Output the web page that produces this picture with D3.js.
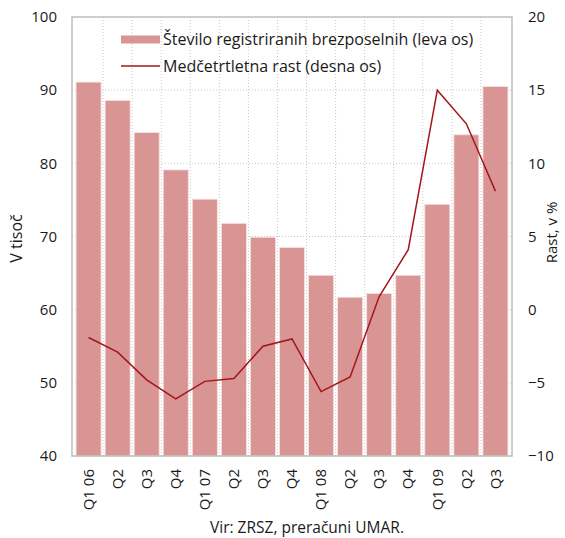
<!DOCTYPE html>
<html>
<head>
<meta charset="utf-8">
<script src="https://cdn.jsdelivr.net/npm/d3@7"></script>
<style>
    body { margin: 0; background: #fff; }
    text { font-family: "Open Sans", "DejaVu Sans", sans-serif; fill: #1a1a1a; }
</style>
</head>
<body>
<div id="chart"></div>
<script>
var quarters = ["Q1 06", "Q2", "Q3", "Q4", "Q1 07", "Q2", "Q3", "Q4", "Q1 08", "Q2", "Q3", "Q4", "Q1 09", "Q2", "Q3"];
var unemployed = [91.1, 88.6, 84.2, 79.1, 75.1, 71.8, 69.9, 68.5, 64.7, 61.7, 62.2, 64.7, 74.4, 83.9, 90.5];
var growth = [-1.9, -2.9, -4.8, -6.1, -4.9, -4.7, -2.5, -2.0, -5.6, -4.6, 0.9, 4.1, 15.0, 12.7, 8.1];
var leftTicks = [40, 50, 60, 70, 80, 90, 100];
var rightTicks = [-10, -5, 0, 5, 10, 15, 20];
var legendLabels = ["Število registriranih brezposelnih (leva os)", "Medčetrtletna rast (desna os)"];

var margin = { top: 17, right: 53, bottom: 82, left: 72 },
    width = 565 - margin.left - margin.right,
    height = 538 - margin.top - margin.bottom;

var barColor = "#d99594",
    lineColor = "#a3151b",
    gridColor = "#c8c8c8";

var svg = d3
    .select("#chart")
    .append("svg")
    .attr("width", 565)
    .attr("height", 538);

var g = svg.append("g")
    .attr("transform", "translate(" + margin.left + "," + margin.top + ")");

var idx = d3.range(quarters.length);
var x = d3.scaleBand().domain(idx).range([0, width]).paddingInner(0.14).paddingOuter(0.14);
var y = d3.scaleLinear().domain([40, 100]).range([height, 0]);
var y2 = d3.scaleLinear().domain([-10, 20]).range([height, 0]);
var gap = x.step() * x.paddingInner();
var mid = (i) => x(i) + x.bandwidth() / 2;

// dotted grid
g.selectAll(".hgrid")
    .data(leftTicks.slice(1, -1))
    .enter()
    .append("line")
    .attr("x1", 0)
    .attr("x2", width)
    .attr("y1", (d) => y(d))
    .attr("y2", (d) => y(d))
    .attr("stroke", gridColor)
    .attr("stroke-dasharray", "1,2");

g.selectAll(".vgrid")
    .data(idx.slice(1))
    .enter()
    .append("line")
    .attr("x1", (d) => x(d) - gap / 2)
    .attr("x2", (d) => x(d) - gap / 2)
    .attr("y1", 0)
    .attr("y2", height)
    .attr("stroke", gridColor)
    .attr("stroke-dasharray", "1,2");

// bars
g.selectAll(".bar")
    .data(unemployed)
    .enter()
    .append("rect")
    .attr("x", (d, i) => x(i))
    .attr("width", x.bandwidth())
    .attr("y", (d) => y(d))
    .attr("height", (d) => height - y(d))
    .attr("fill", barColor)
    .attr("stroke", "#f4e2e1")
    .attr("stroke-width", 0.8);

// frame
g.append("rect")
    .attr("width", width)
    .attr("height", height)
    .attr("fill", "none")
    .attr("stroke", "#bdbdbd")
    .attr("stroke-width", 1.5);

// line
g.append("path")
    .datum(growth)
    .attr("fill", "none")
    .attr("stroke", lineColor)
    .attr("stroke-width", 1.5)
    .attr("d", d3.line()
        .x((d, i) => mid(i))
        .y((d) => y2(d)));

// axes
var leftAxis = g.append("g")
    .call(d3.axisLeft(y).tickValues(leftTicks).tickSize(0).tickPadding(15));
leftAxis.select(".domain").remove();
leftAxis.selectAll("text").style("font-size", "15px");

var rightAxis = g.append("g")
    .attr("transform", "translate(" + width + ",0)")
    .call(d3.axisRight(y2).tickValues(rightTicks).tickSize(0).tickPadding(16));
rightAxis.select(".domain").remove();
rightAxis.selectAll("text").style("font-size", "15px");

var bottomAxis = g.append("g")
    .attr("transform", "translate(0," + height + ")")
    .call(d3.axisBottom(x).tickFormat((i) => quarters[i]).tickSize(0));
bottomAxis.select(".domain").remove();
bottomAxis.selectAll("text")
    .style("font-size", "15px")
    .attr("transform", "rotate(-90)")
    .attr("text-anchor", "end")
    .attr("x", -13)
    .attr("y", 0)
    .attr("dy", "0.35em");

// axis titles
svg.append("text")
    .attr("transform", "translate(22," + (margin.top + height / 2 + 2) + ") rotate(-90)")
    .attr("text-anchor", "middle")
    .style("font-size", "16px")
    .text("V tisoč");

svg.append("text")
    .attr("transform", "translate(557," + (margin.top + height / 2 - 4) + ") rotate(-90)")
    .attr("text-anchor", "middle")
    .style("font-size", "15px")
    .text("Rast, v %");

// legend
var legend = svg.append("g").attr("transform", "translate(121,39.5)");
legend.append("rect")
    .attr("x", 0)
    .attr("y", -4)
    .attr("width", 39)
    .attr("height", 8)
    .attr("fill", barColor);
legend.append("line")
    .attr("x1", 0)
    .attr("x2", 39)
    .attr("y1", 26.5)
    .attr("y2", 26.5)
    .attr("stroke", lineColor)
    .attr("stroke-width", 1.5);
legend.selectAll(".lab")
    .data(legendLabels)
    .enter()
    .append("text")
    .attr("x", 42)
    .attr("y", (d, i) => i * 26.5)
    .attr("dy", "0.35em")
    .style("font-size", "16px")
    .text((d) => d);

svg.append("text")
    .attr("x", 307)
    .attr("y", 533)
    .attr("text-anchor", "middle")
    .style("font-size", "15.5px")
    .text("Vir: ZRSZ, preračuni UMAR.");
</script>
</body>
</html>
